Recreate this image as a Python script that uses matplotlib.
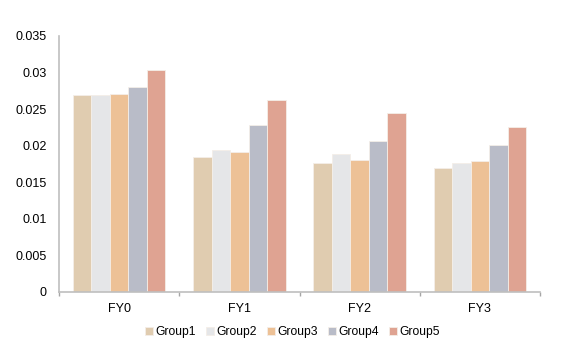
import matplotlib
matplotlib.use('Agg')
import matplotlib.pyplot as plt
import numpy as np

plt.rcParams['font.family'] = ['Liberation Sans', 'DejaVu Sans']

# values
years = ['FY0', 'FY1', 'FY2', 'FY3']
groups = ['Group1', 'Group2', 'Group3', 'Group4', 'Group5']
group1 = [0.0270, 0.0185, 0.0176, 0.0169]
group2 = [0.0269, 0.0194, 0.0189, 0.0177]
group3 = [0.0271, 0.0192, 0.0181, 0.0179]
group4 = [0.0280, 0.0228, 0.0207, 0.0201]
group5 = [0.0303, 0.0262, 0.0245, 0.0225]
colors = ['#E0CCB0', '#E5E6E8', '#EDC196', '#B9BCC8', '#DFA392']

series = [group1, group2, group3, group4, group5]

fig = plt.figure(figsize=(5.7, 3.51), dpi=100)
ax = fig.add_axes([59/570, 1-292/351, (540-59)/570, (292-36)/351])

x = np.arange(len(years))
w = 0.154
for i, vals in enumerate(series):
    ax.bar(x + (i-2)*w, vals, w, color=colors[i], edgecolor='#F4EEE8', linewidth=0.6,
           label=groups[i])

ax.set_xlim(-0.5, 3.5)
ax.set_ylim(0, 0.035)
ax.set_yticks(np.arange(0, 0.0351, 0.005))
ax.set_yticklabels(['0', '0.005', '0.01', '0.015', '0.02', '0.025', '0.03', '0.035'])
ax.set_xticks(x)
ax.set_xticklabels(years)
ax.set_xticks(np.arange(-0.5, 3.6, 1), minor=True)
ax.tick_params(axis='x', which='major', length=0, pad=8, labelsize=9)
ax.tick_params(axis='x', which='minor', length=3, color='#A6A6A6', width=1)
ax.tick_params(axis='y', length=0, pad=9, labelsize=9)

for s in ['top', 'right']:
    ax.spines[s].set_visible(False)
ax.spines['left'].set_color('#BFBFBF')
ax.spines['bottom'].set_color('#BFBFBF')
ax.spines['left'].set_linewidth(1.2)
ax.spines['bottom'].set_linewidth(1.2)

ax.legend(loc='center', bbox_to_anchor=(0.485, -40/256), ncol=5, frameon=False,
          fontsize=8.7, handlelength=0.7, handleheight=0.7, handletextpad=0.2,
          columnspacing=0.8, borderaxespad=0, borderpad=0)

fig.savefig('out.png', dpi=100)
